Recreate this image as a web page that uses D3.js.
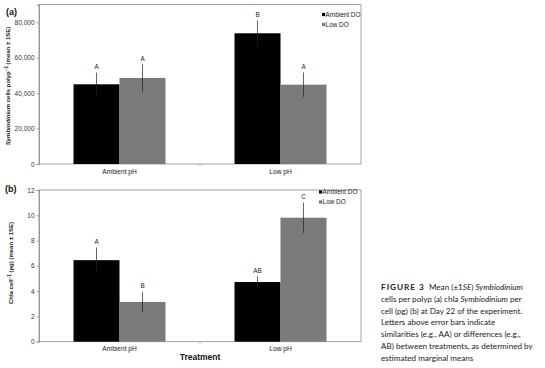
<!DOCTYPE html>
<html><head><meta charset="utf-8">
<script src="https://cdn.jsdelivr.net/npm/d3@7"></script>
<style>
body{margin:0;background:#fff;}
svg{display:block;}
.cap{font-family:Lato,"Open Sans",sans-serif;font-size:8.1px;fill:#222;}
</style></head>
<body><svg id="c" width="545" height="368"></svg>
<script>
const categories = ["Ambient pH", "Low pH"];
const series = ["Ambient DO", "Low DO"];
const cellsMean = [[45000, 48600], [73800, 44800]];
const cellsSE = [[6600, 7800], [7200, 6900]];
const cellsLetters = [["A", "A"], ["B", "A"]];
const chlaMean = [[6.45, 3.14], [4.72, 9.81]];
const chlaSE = [[1.0, 0.8], [0.45, 1.2]];
const chlaLetters = [["A", "B"], ["AB", "C"]];
const cellsTicks = [0, 20000, 40000, 60000, 80000];
const chlaTicks = [0, 2, 4, 6, 8, 10, 12];
const colors = ["#000000", "#7b7b7b"];
const caption = [
  [{t:"FIGURE 3",b:1},{t:"  Mean (\u00b11"},{t:"SE",i:1},{t:") "},{t:"Symbiodinium",i:1}],
  [{t:"cells per polyp (a) chla "},{t:"Symbiodinium",i:1},{t:" per"}],
  [{t:"cell (pg) (b) at Day 22 of the experiment."}],
  [{t:"Letters above error bars indicate"}],
  [{t:"similarities (e.g., AA) or differences (e.g.,"}],
  [{t:"AB) between treatments, as determined by"}],
  [{t:"estimated marginal means"}]
];

const svg = d3.select("#c");
const font = "'Liberation Sans', Arial, sans-serif";

function panel(o) {
  const g = svg.append("g");
  const x = d3.scaleBand().domain(categories).range([39, 361]);
  const y = d3.scaleLinear().domain([0, o.max]).range([o.bottom, o.top]);
  const bw = x.bandwidth() * 0.2857;
  const xs = d3.scaleBand().domain(series).range([0, bw * 2]);
  g.append("rect").attr("x", 39).attr("y", o.top).attr("width", 322).attr("height", o.bottom - o.top)
    .attr("fill", "none").attr("stroke", "#8a8a8a").attr("stroke-width", 0.8);
  categories.forEach((c, ci) => {
    const gx = x(c) + x.bandwidth() / 2 - bw;
    series.forEach((s, si) => {
      const v = o.mean[ci][si], e = o.se[ci][si];
      const bx = gx + xs(s);
      g.append("rect").attr("x", bx).attr("y", y(v)).attr("width", xs.bandwidth())
        .attr("height", y(0) - y(v)).attr("fill", colors[si]);
      const cx = bx + xs.bandwidth() / 2;
      g.append("line").attr("x1", cx).attr("x2", cx).attr("y1", y(v - e)).attr("y2", y(v + e))
        .attr("stroke", "#222").attr("stroke-width", 0.7);
      g.append("text").attr("x", cx).attr("y", y(v + e) - 3.5).attr("text-anchor", "middle")
        .attr("font-family", font).attr("font-size", 6.3).attr("fill", "#222").text(o.letters[ci][si]);
    });
  });
  const ya = d3.axisLeft(y).tickValues(o.ticks).tickSize(2.5).tickPadding(2)
    .tickFormat(o.fmt);
  const yg = g.append("g").attr("transform", "translate(39,0)").call(ya);
  yg.select(".domain").attr("stroke", "#8a8a8a").attr("stroke-width", 0.8);
  yg.selectAll(".tick line").attr("stroke", "#8a8a8a").attr("stroke-width", 0.7);
  yg.selectAll("text").attr("font-family", font).attr("font-size", 6.5).attr("fill", "#333");
  const xa = d3.axisBottom(x).tickSize(0).tickPadding(5);
  const xg = g.append("g").attr("transform", `translate(0,${o.bottom})`).call(xa);
  xg.select(".domain").remove();
  xg.selectAll("text").attr("font-family", font).attr("font-size", 6.6).attr("fill", "#222");
  g.append("line").attr("x1", 200).attr("x2", 200).attr("y1", o.bottom).attr("y2", o.bottom + 2)
    .attr("stroke", "#8a8a8a").attr("stroke-width", 0.7);
  g.append("text").attr("transform", `translate(${o.ylx},${o.yly}) rotate(-90)`)
    .attr("text-anchor", "middle").attr("font-family", font).attr("font-size", 6)
    .attr("font-weight", "bold").attr("fill", "#222").html(o.ylabel);
  g.append("text").attr("x", o.tagx).attr("y", o.tagy).attr("font-family", font)
    .attr("font-size", 9).attr("font-weight", "bold").attr("fill", "#111").text(o.tag);
  series.forEach((s, si) => {
    const ly = o.legY + si * 10;
    g.append("rect").attr("x", o.legX).attr("y", ly - 3.6).attr("width", 3.2).attr("height", 3.2).attr("fill", colors[si]);
    g.append("text").attr("x", o.legX + 3.6).attr("y", ly).attr("font-family", font)
      .attr("font-size", 6.4).attr("fill", "#222").text(s);
  });
}

panel({top: 4.6, bottom: 164, max: 90000, mean: cellsMean, se: cellsSE, letters: cellsLetters,
  ticks: cellsTicks, fmt: d3.format(","), ylx: 10, yly: 86,
  ylabel: '<tspan font-style="italic">Symbiodinium</tspan> cells polyp<tspan dy="-2" font-size="4.5">\u22121</tspan><tspan dy="2"> (mean \u00b1 1SE)</tspan>',
  tag: "(a)", tagx: 6, tagy: 15, legX: 322, legY: 16.5});
panel({top: 190, bottom: 341.7, max: 12, mean: chlaMean, se: chlaSE, letters: chlaLetters,
  ticks: chlaTicks, fmt: d3.format("d"), ylx: 13, yly: 263,
  ylabel: 'Chla cell<tspan dy="-2" font-size="4.5">\u22121</tspan><tspan dy="2"> (pg) (mean \u00b1 1SE)</tspan>',
  tag: "(b)", tagx: 5, tagy: 192, legX: 319, legY: 194});

svg.append("text").attr("x", 200).attr("y", 360).attr("text-anchor", "middle")
  .attr("font-family", font).attr("font-size", 8.5).attr("font-weight", "bold").attr("fill", "#111").text("Treatment");

caption.forEach((line, i) => {
  const t = svg.append("text").attr("class", "cap").attr("x", 381).attr("y", 290 + i * 11.8);
  line.forEach(p => {
    const ts = t.append("tspan").text(p.t);
    if (p.i) ts.attr("font-style", "italic");
    if (p.b) ts.attr("font-weight", "bold").attr("letter-spacing", 1.0).attr("font-size", 8.2);
  });
  t.attr("xml:space", "preserve").style("white-space", "pre");
});
</script></body></html>
